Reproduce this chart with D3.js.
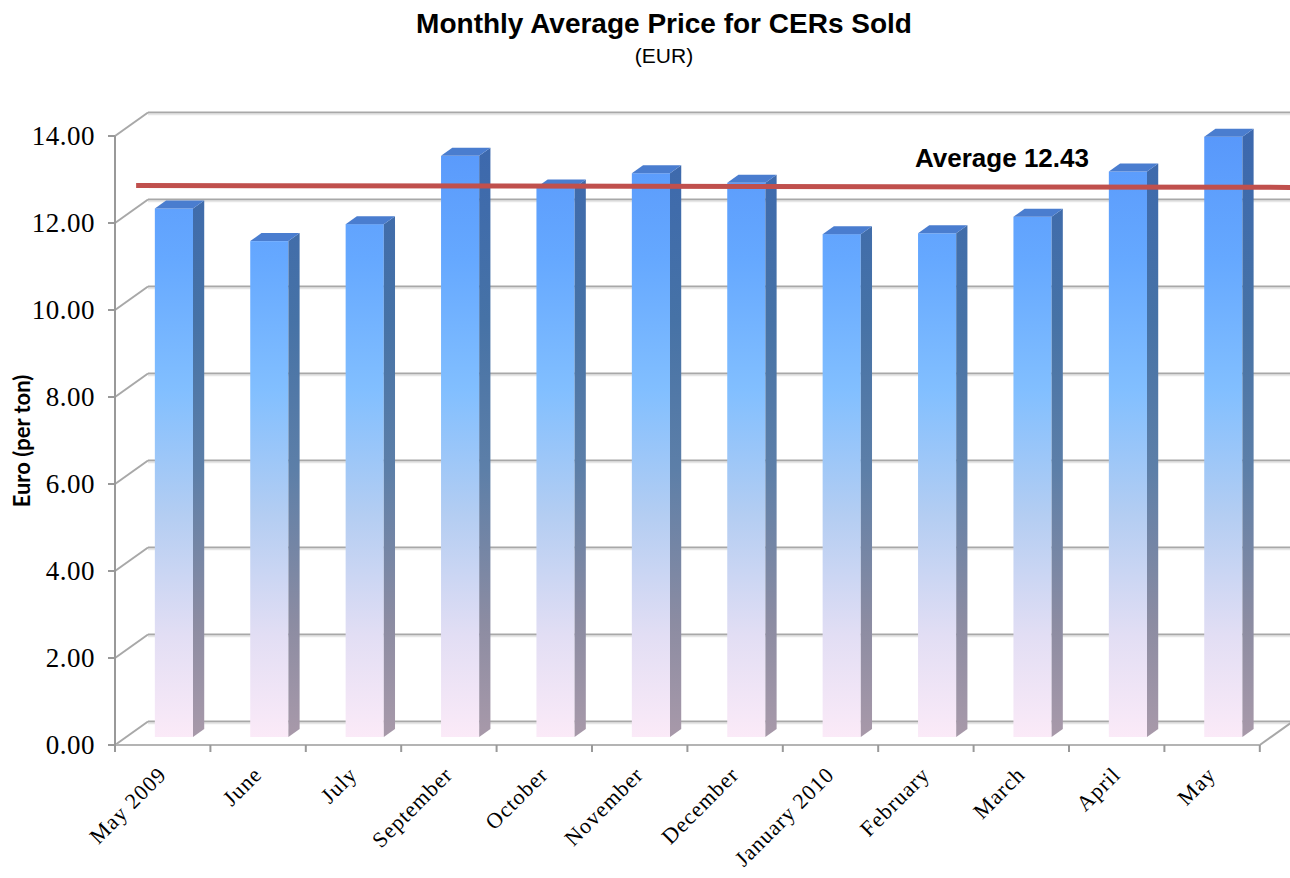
<!DOCTYPE html>
<html lang="en">
<head>
  <meta charset="UTF-8">
  <title>Monthly Average Price for CERs Sold</title>
  <script src="https://d3js.org/d3.v7.min.js"></script>
  <style>
    body { margin: 0; overflow: hidden; background: #fff; }
    svg { display: block; }
  </style>
</head>
<body>
  <svg id="chart" width="1290" height="878"></svg>

  <script>
    // data
    const months = ["May 2009", "June", "July", "September", "October", "November",
                    "December", "January 2010", "February", "March", "April", "May"];
    const prices = [12.15, 11.40, 11.79, 13.36, 12.63, 12.96, 12.74, 11.56, 11.58, 11.96, 13.00, 13.80];
    const average = 12.43;
    const yTicks = [0, 2, 4, 6, 8, 10, 12, 14];

    const svg = d3.select("#chart");

    // front plane of the fake 3D box
    const x0 = 115, band = 95.4;
    const DX = 33, DY = -23.5;      // offset from front to back wall
    const x = d3.scaleBand().domain(months).range([x0, x0 + band * months.length]);
    const y = d3.scaleLinear().domain([0, 14]).range([745, 136]);
    const xEnd = x.range()[1];

    // projection helpers: depth d in [0,1]
    const px = (xx, d) => xx + DX * d;
    const py = (v, d) => y(v) + DY * d;

    const grid = svg.append("g");
    // back wall gridlines
    grid.selectAll("line.back")
      .data(yTicks)
      .enter().append("line")
      .attr("x1", px(x0, 1)).attr("x2", px(xEnd, 1))
      .attr("y1", d => py(d, 1)).attr("y2", d => py(d, 1))
      .attr("stroke", "#a8a8a8").attr("stroke-width", 2);
    grid.selectAll("line.backShadow")
      .data(yTicks)
      .enter().append("line")
      .attr("x1", px(x0, 1)).attr("x2", px(xEnd, 1))
      .attr("y1", d => py(d, 1) + 2).attr("y2", d => py(d, 1) + 2)
      .attr("stroke", "#e6e6e6").attr("stroke-width", 1.5);
    // side wall diagonals
    grid.selectAll("line.side")
      .data(yTicks)
      .enter().append("line")
      .attr("x1", x0).attr("x2", px(x0, 1))
      .attr("y1", d => y(d)).attr("y2", d => py(d, 1))
      .attr("stroke", "#a8a8a8").attr("stroke-width", 2);

    // floor front + right edge
    grid.append("line")
      .attr("x1", x0).attr("x2", xEnd)
      .attr("y1", y(0)).attr("y2", y(0))
      .attr("stroke", "#b4b4b4").attr("stroke-width", 2);
    grid.append("line")
      .attr("x1", xEnd).attr("x2", px(xEnd, 1))
      .attr("y1", y(0)).attr("y2", py(0, 1))
      .attr("stroke", "#a8a8a8").attr("stroke-width", 2);

    // y axis
    grid.append("line")
      .attr("x1", x0).attr("x2", x0)
      .attr("y1", y(14)).attr("y2", y(0))
      .attr("stroke", "#999").attr("stroke-width", 2);
    grid.selectAll("line.ytick")
      .data(yTicks)
      .enter().append("line")
      .attr("x1", x0 - 7).attr("x2", x0)
      .attr("y1", d => y(d)).attr("y2", d => y(d))
      .attr("stroke", "#999").attr("stroke-width", 2);
    svg.selectAll("text.ylab")
      .data(yTicks)
      .enter().append("text")
      .attr("x", 95).attr("y", d => y(d))
      .attr("dy", "0.33em")
      .attr("text-anchor", "end")
      .attr("font-family", "Liberation Serif, serif")
      .attr("font-size", 27)
      .attr("letter-spacing", 0.5)
      .text(d => d.toFixed(2));

    // x ticks
    grid.selectAll("line.xtick")
      .data(d3.range(months.length + 1))
      .enter().append("line")
      .attr("x1", i => x0 + i * x.step()).attr("x2", i => x0 + i * x.step())
      .attr("y1", y(0)).attr("y2", y(0) + 7)
      .attr("stroke", "#999").attr("stroke-width", 2);

    // gradients
    const defs = svg.append("defs");
    const gFront = defs.append("linearGradient").attr("id", "gFront")
      .attr("gradientUnits", "userSpaceOnUse")
      .attr("x1", 0).attr("x2", 0).attr("y1", y(14)).attr("y2", y(0));
    [["0%", "#5898fb"], ["20%", "#65a8ff"], ["42%", "#82bfff"], ["62%", "#b3cdf2"],
     ["82%", "#e2def4"], ["100%", "#fdebf8"]]
      .forEach(s => gFront.append("stop").attr("offset", s[0]).attr("stop-color", s[1]));
    const gSide = defs.append("linearGradient").attr("id", "gSide")
      .attr("gradientUnits", "userSpaceOnUse")
      .attr("x1", 0).attr("x2", 0).attr("y1", y(14)).attr("y2", y(0));
    [["0%", "#3c68ae"], ["30%", "#4672a6"], ["55%", "#5d7fa8"], ["80%", "#8c8ca2"], ["100%", "#aa9aaa"]]
      .forEach(s => gSide.append("stop").attr("offset", s[0]).attr("stop-color", s[1]));

    // bars
    const d1 = 0.34, d2 = 0.68, barW = 0.4;
    const bars = svg.append("g").selectAll("g")
      .data(months.map((m, i) => ({ m, v: prices[i] })))
      .enter().append("g");

    const xl = d => px(x(d.m) + x.bandwidth() * (0.5 - barW / 2), d1);
    const xr = d => px(x(d.m) + x.bandwidth() * (0.5 + barW / 2), d1);
    const dx = DX * (d2 - d1), dy = DY * (d2 - d1);

    bars.append("rect")
      .attr("x", xl).attr("width", d => xr(d) - xl(d))
      .attr("y", d => py(d.v, d1)).attr("height", d => py(0, d1) - py(d.v, d1))
      .attr("fill", "url(#gFront)");
    bars.append("polygon")
      .attr("points", d => [
        [xr(d), py(d.v, d1)], [xr(d) + dx, py(d.v, d1) + dy],
        [xr(d) + dx, py(0, d1) + dy], [xr(d), py(0, d1)]].join(" "))
      .attr("fill", "url(#gSide)");
    bars.append("polygon")
      .attr("points", d => [
        [xl(d), py(d.v, d1)], [xl(d) + dx, py(d.v, d1) + dy],
        [xr(d) + dx, py(d.v, d1) + dy], [xr(d), py(d.v, d1)]].join(" "))
      .attr("fill", "#4a7dcf");

    // category labels
    svg.selectAll("text.xlab")
      .data(months)
      .enter().append("text")
      .attr("transform", m => `translate(${x(m) + x.bandwidth() / 2 + 5},${y(0) + 31}) rotate(-45)`)
      .attr("text-anchor", "end")
      .attr("font-family", "Liberation Serif, serif")
      .attr("font-size", 22)
      .attr("letter-spacing", 1)
      .text(m => m);

    // average line
    svg.append("line")
      .attr("x1", px(x0, 0.64)).attr("x2", 1290)
      .attr("y1", py(average, 0.8)).attr("y2", py(average, 0.72))
      .attr("stroke", "#c0504d").attr("stroke-width", 5);
    svg.append("text")
      .attr("x", 915).attr("y", py(average, 0.8) - 18)
      .attr("font-family", "Liberation Sans, Arial, sans-serif")
      .attr("font-weight", "bold").attr("font-size", 26)
      .text("Average " + average.toFixed(2));

    // titles
    svg.append("text")
      .attr("x", 664).attr("y", 33)
      .attr("text-anchor", "middle")
      .attr("font-family", "Liberation Sans, Arial, sans-serif")
      .attr("font-weight", "bold").attr("font-size", 28)
      .text("Monthly Average Price for CERs Sold");
    svg.append("text")
      .attr("x", 664).attr("y", 63)
      .attr("text-anchor", "middle")
      .attr("font-family", "Liberation Sans, Arial, sans-serif")
      .attr("font-size", 21)
      .text("(EUR)");
    svg.append("text")
      .attr("transform", "translate(30,441) rotate(-90)")
      .attr("text-anchor", "middle")
      .attr("font-family", "Lato, Open Sans, sans-serif")
      .attr("font-weight", "bold").attr("font-size", 22)
      .text("Euro (per ton)");
  </script>
</body>
</html>
